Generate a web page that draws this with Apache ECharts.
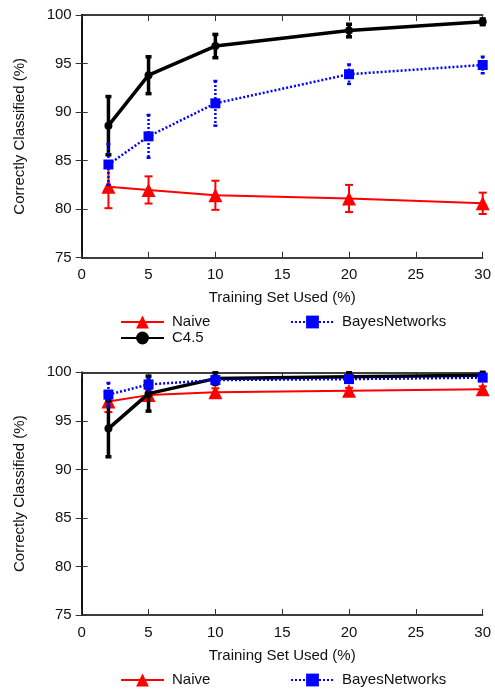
<!DOCTYPE html>
<html><head><meta charset="utf-8">
<script src="https://cdn.jsdelivr.net/npm/echarts@6/dist/echarts.min.js"></script>
<style>html,body{margin:0;padding:0;background:#fff}#c{width:495px;height:689px}</style>
</head><body><div id="c"></div>
<script>
// ---- data ----
const trainingPct = [2, 5, 10, 20, 30];
const xTicks = [0, 5, 10, 15, 20, 25, 30];
const yTicks = [75, 80, 85, 90, 95, 100];

// top chart
const naiveTop = [82.3, 81.98, 81.43, 81.1, 80.6];
const naiveTopErr = [2.2, 1.4, 1.5, 1.4, 1.1];
const bayesTop = [84.6, 87.5, 90.9, 93.9, 94.85];
const bayesTopErr = [2.1, 2.2, 2.3, 1.0, 0.85];
const c45Top = [88.6, 93.8, 96.8, 98.4, 99.3];
const c45TopErr = [3.0, 1.9, 1.2, 0.65, 0.3];

// bottom chart
const naiveBot = [97.0, 97.65, 97.95, 98.1, 98.25];
const naiveBotErr = [1.1, 0.6, 0.4, 0.3, 0.3];
const bayesBot = [97.7, 98.75, 99.2, 99.3, 99.45];
const bayesBotErr = [1.2, 0.6, 0.4, 0.3, 0.3];
const c45Bot = [94.2, 97.8, 99.35, 99.55, 99.7];
const c45BotErr = [2.9, 1.8, 0.6, 0.4, 0.3];

const seriesNames = ['Naive', 'BayesNetworks', 'C4.5'];
// ---------------

const FONT = '"Liberation Sans", Arial, sans-serif';
const TXT = '#111';
const pts = (ys) => trainingPct.map((x, i) => [x, ys[i]]);
const errPts = (ys, es) => trainingPct.map((x, i) => [x, ys[i], es[i]]);

function errRender(capW, lw, dash, color) {
  return function (params, api) {
    const x = api.value(0), y = api.value(1), e = api.value(2);
    const hi = Math.min(y + e, 100), lo = Math.max(y - e, 75);
    const p1 = api.coord([x, hi]), p2 = api.coord([x, lo]);
    const st = { stroke: color, lineWidth: lw, lineDash: dash };
    const kids = [{ type: 'line', shape: { x1: p1[0], y1: p1[1], x2: p2[0], y2: p2[1] }, style: st }];
    if (y + e <= 100) kids.push({ type: 'line', shape: { x1: p1[0] - capW, y1: p1[1], x2: p1[0] + capW, y2: p1[1] }, style: { stroke: color, lineWidth: lw } });
    kids.push({ type: 'line', shape: { x1: p2[0] - capW, y1: p2[1], x2: p2[0] + capW, y2: p2[1] }, style: { stroke: color, lineWidth: lw } });
    return { type: 'group', children: kids };
  };
}

const gridTops = [15, 372.3];
const gridH = 242.7;

const grids = gridTops.map(t => ({ left: 81.7, width: 401, top: t, height: gridH }));

const xAxes = [], yAxes = [];
[0, 1].forEach(g => {
  xAxes.push({
    type: 'value', gridIndex: g, min: 0, max: 30, interval: 5, position: 'bottom',
    name: 'Training Set Used (%)', nameLocation: 'middle', nameGap: 33,
    nameTextStyle: { fontFamily: FONT, fontSize: 15, color: TXT },
    axisLine: { show: true, lineStyle: { color: '#000', width: 1.5 } },
    axisTick: { show: true, inside: true, length: 6, lineStyle: { color: '#333', width: 1 } },
    axisLabel: { fontFamily: FONT, fontSize: 15, color: TXT, margin: 10,
      formatter: v => xTicks.includes(v) ? String(v) : '' },
    splitLine: { show: false }
  });
  xAxes.push({
    type: 'value', gridIndex: g, min: 0, max: 30, interval: 5, position: 'top',
    axisLine: { show: true, lineStyle: { color: '#000', width: 1.5 } },
    axisTick: { show: true, inside: true, length: 6, lineStyle: { color: '#333', width: 1 } },
    axisLabel: { show: false }, splitLine: { show: false }
  });
  yAxes.push({
    type: 'value', gridIndex: g, min: 75, max: 100, interval: 5, position: 'left',
    name: 'Correctly Classified (%)', nameLocation: 'middle', nameGap: 54, nameRotate: 90,
    nameTextStyle: { fontFamily: FONT, fontSize: 15, color: TXT },
    axisLine: { show: true, lineStyle: { color: '#000', width: 1.5 } },
    axisTick: { show: true, inside: true, length: 6, lineStyle: { color: '#333', width: 1 } },
    axisLabel: { fontFamily: FONT, fontSize: 15, color: TXT, margin: 10,
      formatter: v => yTicks.includes(v) ? String(v) : '' },
    splitLine: { show: false }
  });
  yAxes.push({
    type: 'value', gridIndex: g, min: 75, max: 100, interval: 5, position: 'right',
    axisLine: { show: true, lineStyle: { color: '#000', width: 1.5 } },
    axisTick: { show: true, inside: true, length: 6, lineStyle: { color: '#333', width: 1 } },
    axisLabel: { show: false }, splitLine: { show: false }
  });
});

const styles = {
  'Naive': { color: '#ff0000', lw: 2, type: 'solid', symbol: 'triangle', size: 14, cap: 4, elw: 2, dash: null, z: 3 },
  'BayesNetworks': { color: '#0000ff', lw: 2.5, type: [2, 2], symbol: 'rect', size: 10, cap: 2, elw: 2.5, dash: [2, 2], z: 5 },
  'C4.5': { color: '#000000', lw: 3.5, type: 'solid', symbol: 'circle', size: 8, cap: 3, elw: 3.5, dash: null, z: 4 }
};

const datasets = [
  { g: 0, 'Naive': [naiveTop, naiveTopErr], 'BayesNetworks': [bayesTop, bayesTopErr], 'C4.5': [c45Top, c45TopErr] },
  { g: 1, 'Naive': [naiveBot, naiveBotErr], 'BayesNetworks': [bayesBot, bayesBotErr], 'C4.5': [c45Bot, c45BotErr] }
];

const series = [];
datasets.forEach(d => {
  seriesNames.forEach(n => {
    const s = styles[n];
    const [ys, es] = d[n];
    series.push({
      type: 'line', name: n, xAxisIndex: d.g * 2, yAxisIndex: d.g * 2, z: s.z,
      data: pts(ys), symbol: s.symbol, symbolSize: s.size, showAllSymbol: true,
      lineStyle: { color: s.color, width: s.lw, type: s.type },
      itemStyle: { color: s.color }, animation: false
    });
    series.push({
      type: 'custom', name: n + ' error', xAxisIndex: d.g * 2, yAxisIndex: d.g * 2, z: s.z,
      renderItem: errRender(s.cap, s.elw, s.dash, s.color),
      itemStyle: { color: s.color },
      data: errPts(ys, es), silent: true, tooltip: { show: false }
    });
  });
});

const legendBase = {
  orient: 'vertical', itemWidth: 43, itemHeight: 16, itemGap: 1, padding: 0,
  textStyle: { fontFamily: FONT, fontSize: 15, color: TXT, padding: [0, 0, 0, 3] },
  selectedMode: false
};
const legends = [
  Object.assign({}, legendBase, { left: 120, top: 314.5, data: ['Naive', 'C4.5'] }),
  Object.assign({}, legendBase, { left: 290, top: 314.5, data: ['BayesNetworks'] }),
  Object.assign({}, legendBase, { left: 120, top: 672.5, data: ['Naive'] }),
  Object.assign({}, legendBase, { left: 290, top: 672.5, data: ['BayesNetworks'] })
];

const chart = echarts.init(document.getElementById('c'), null, { renderer: 'canvas' });
chart.setOption({
  animation: false,
  backgroundColor: '#fff',
  grid: grids, xAxis: xAxes, yAxis: yAxes, legend: legends, series: series
});
</script></body></html>
